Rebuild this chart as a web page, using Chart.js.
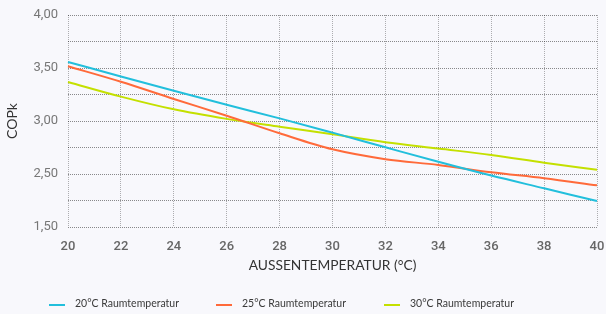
<!DOCTYPE html>
<html>
<head>
<meta charset="utf-8">
<script src="https://cdn.jsdelivr.net/npm/chart.js@4.4.0/dist/chart.umd.min.js"></script>
<style>
  html, body { margin:0; padding:0; background:#f8f8fc; }
  #wrap { position:relative; width:606px; height:314px; }
  canvas { position:absolute; left:0; top:0; }
  .leg { position:absolute; top:297px; font-family:"Lato", "Noto Sans", sans-serif; font-size:10.5px; color:#3a3a3a; white-space:nowrap; }
  .leg span.sw { position:absolute; left:0; top:7px; width:16px; height:2px; }
  .leg span.tx { position:absolute; left:26px; top:0; }
</style>
</head>
<body>
<div id="wrap">
  <canvas id="c" width="606" height="314"></canvas>
  <div id="legend"></div>
</div>
<script>
const categories = ['20','22','24','26','28','30','32','34','36','38','40'];
const series20 = [3.557, 3.42, 3.285, 3.153, 3.025, 2.89, 2.752, 2.615, 2.485, 2.365, 2.245];
const series25 = [3.516, 3.37, 3.208, 3.05, 2.884, 2.733, 2.64, 2.585, 2.516, 2.46, 2.393];
const series30 = [3.368, 3.23, 3.11, 3.02, 2.946, 2.875, 2.80, 2.74, 2.68, 2.607, 2.54];
const seriesNames = ['20°C Raumtemperatur', '25°C Raumtemperatur', '30°C Raumtemperatur'];
const seriesColors = ['#22bfdc', '#ff6a3a', '#c4e000'];
const yTickValues = [4, 3.5, 3, 2.5, 2];
const yTickLabels = ['4,00', '3,50', '3,00', '2,50', '1,50'];
const xTitle = 'AUSSENTEMPERATUR (°C)';
const yTitle = 'COPk';

const allSeries = [series20, series25, series30];
const datasets = allSeries.map((d, i) => ({
  label: seriesNames[i],
  data: d,
  borderColor: seriesColors[i],
  backgroundColor: seriesColors[i],
  borderWidth: 2,
  pointRadius: 0,
  cubicInterpolationMode: 'monotone',
  fill: false
}));

new Chart(document.getElementById('c'), {
  type: 'line',
  data: { labels: categories, datasets },
  options: {
    responsive: false,
    animation: false,
    layout: { padding: { left: 4, right: 9, top: 15, bottom: 40 } },
    plugins: { legend: { display: false }, tooltip: { enabled: false } },
    scales: {
      x: {
        offset: false,
        grid: { color: 'rgba(0,0,0,0.3)', lineWidth: 1, drawTicks: false, borderDash: [1, 1] },
        border: { display: false, dash: [1, 1] },
        ticks: { color: '#666', padding: 12, maxRotation: 0, autoSkip: false,
                 font: { family: 'Roboto', size: 13, weight: '500' } },
        title: { display: true, text: xTitle, color: '#333', padding: { top: 3, bottom: 0 },
                 font: { family: 'Lato', size: 13.8 } },
        afterFit: s => { s.height = 47; s.paddingLeft = 0; s.paddingRight = 0; }
      },
      y: {
        min: 2, max: 4,
        grid: { color: 'rgba(0,0,0,0.45)', lineWidth: 1, drawTicks: false, borderDash: [1, 1] },
        border: { display: false, dash: [1, 1] },
        afterBuildTicks: s => {
          const t = [];
          for (let v = 2; v <= 4.0001; v += 0.25) t.push({ value: Math.round(v * 100) / 100 });
          s.ticks = t;
        },
        ticks: {
          color: '#777', padding: 10,
          font: { family: 'Roboto', size: 13, weight: '400' },
          callback: v => {
            const i = yTickValues.findIndex(x => Math.abs(x - v) < 1e-6);
            return i >= 0 ? yTickLabels[i] : '';
          }
        },
        title: { display: true, text: yTitle, color: '#333', padding: { top: 0, bottom: 4 },
                 font: { family: 'Lato', size: 14 } },
        afterFit: s => { s.width = 64; s.paddingTop = 0; s.paddingBottom = 0; }
      }
    }
  }
});

// legend
const leg = document.getElementById('legend');
const legX = [49, 216, 384];
seriesNames.forEach((n, i) => {
  const d = document.createElement('div');
  d.className = 'leg';
  d.style.left = legX[i] + 'px';
  d.innerHTML = '<span class="sw" style="background:' + seriesColors[i] + '"></span><span class="tx"></span>';
  d.querySelector('.tx').textContent = n;
  leg.appendChild(d);
});
</script>
</body>
</html>
